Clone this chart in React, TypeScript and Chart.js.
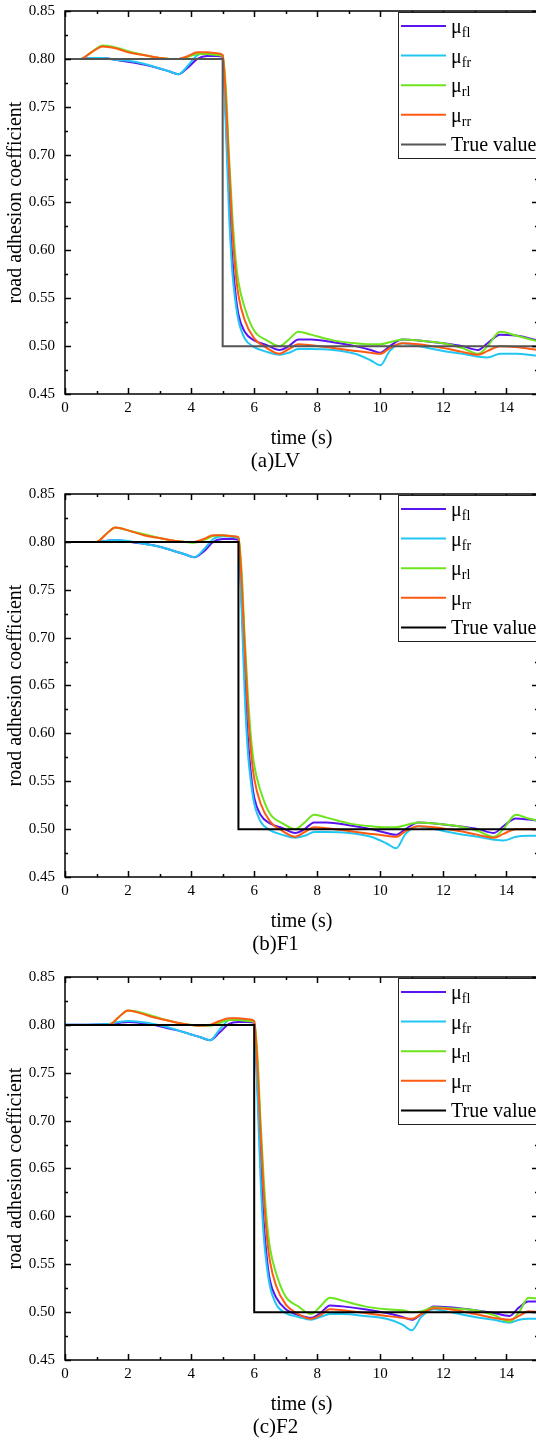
import React, { useEffect, useRef } from 'react';
import { Chart, registerables } from 'chart.js';

Chart.register(...registerables);

const SERIF = '"Liberation Serif", "Times New Roman", Times, serif';

// ---------- shared ----------
const seriesSubs = ['fl', 'fr', 'rl', 'rr'];
const seriesColors = ['#5A14F0', '#22C6F2', '#6EE41E', '#FF5A12'];
const xTickValues = [0, 1, 2, 3, 4, 5, 6, 7, 8, 9, 10, 11, 12, 13, 14, 15];
const yTickValues = [0.45, 0.475, 0.5, 0.525, 0.55, 0.575, 0.6, 0.625, 0.65, 0.675, 0.7, 0.725, 0.75, 0.775, 0.8, 0.825, 0.85];
const captions = ['(a)LV', '(b)F1', '(c)F2'];

// ---------- (a) LV ----------
const T_LV = [0, 0.5, 0.8, 1.2, 1.6, 2.0, 2.5, 3.0, 3.3, 3.6, 3.9, 4.2, 4.5, 4.8, 5.0, 5.1, 5.2, 5.3, 5.4, 5.5, 5.7, 6.0, 6.4, 6.8, 7.1, 7.4, 7.8, 8.5, 9.2, 9.7, 10.0, 10.3, 10.7, 11.2, 12.0, 12.6, 13.1, 13.4, 13.8, 14.3, 15.0];
const FL_LV = [0.800, 0.800, 0.801, 0.801, 0.799, 0.797, 0.794, 0.790, 0.787, 0.784, 0.791, 0.800, 0.803, 0.803, 0.802, 0.74, 0.66, 0.595, 0.557, 0.533, 0.515, 0.506, 0.501, 0.496, 0.500, 0.507, 0.507, 0.504, 0.500, 0.496, 0.493, 0.500, 0.507, 0.506, 0.503, 0.500, 0.496, 0.503, 0.512, 0.511, 0.506];
const FR_LV = [0.800, 0.800, 0.801, 0.801, 0.799, 0.798, 0.795, 0.790, 0.787, 0.784, 0.793, 0.804, 0.806, 0.805, 0.804, 0.73, 0.64, 0.58, 0.548, 0.527, 0.508, 0.499, 0.494, 0.491, 0.493, 0.497, 0.497, 0.496, 0.492, 0.485, 0.480, 0.495, 0.503, 0.500, 0.495, 0.492, 0.489, 0.488, 0.492, 0.492, 0.490];
const RL_LV = [0.800, 0.800, 0.806, 0.814, 0.812, 0.808, 0.804, 0.801, 0.800, 0.800, 0.802, 0.805, 0.805, 0.804, 0.803, 0.77, 0.70, 0.64, 0.595, 0.567, 0.54, 0.516, 0.506, 0.500, 0.507, 0.515, 0.512, 0.506, 0.503, 0.502, 0.502, 0.504, 0.507, 0.506, 0.503, 0.498, 0.492, 0.500, 0.515, 0.511, 0.505];
const RR_LV = [0.800, 0.800, 0.806, 0.813, 0.811, 0.807, 0.804, 0.801, 0.800, 0.800, 0.803, 0.807, 0.807, 0.806, 0.804, 0.76, 0.69, 0.625, 0.58, 0.553, 0.527, 0.508, 0.498, 0.492, 0.497, 0.502, 0.501, 0.498, 0.495, 0.493, 0.492, 0.498, 0.503, 0.502, 0.498, 0.494, 0.491, 0.495, 0.500, 0.499, 0.496];
const TRUE_T_LV = [0, 5, 5, 15];
const TRUE_V_LV = [0.8, 0.8, 0.5, 0.5];

// ---------- (b) F1 ----------
const T_F1 = [0, 1.0, 1.3, 1.6, 2.0, 2.5, 3.0, 3.5, 3.8, 4.1, 4.4, 4.7, 5.0, 5.3, 5.5, 5.6, 5.7, 5.8, 5.9, 6.0, 6.2, 6.5, 6.9, 7.3, 7.6, 7.9, 8.3, 9.0, 9.7, 10.2, 10.5, 10.8, 11.2, 11.7, 12.5, 13.1, 13.6, 13.9, 14.3, 14.7, 15.0];
const FL_F1 = [0.800, 0.800, 0.801, 0.802, 0.800, 0.798, 0.795, 0.790, 0.787, 0.784, 0.790, 0.800, 0.803, 0.803, 0.802, 0.74, 0.66, 0.595, 0.557, 0.533, 0.515, 0.506, 0.501, 0.496, 0.500, 0.507, 0.507, 0.504, 0.500, 0.496, 0.494, 0.500, 0.507, 0.506, 0.503, 0.500, 0.496, 0.503, 0.511, 0.510, 0.509];
const FR_F1 = [0.800, 0.800, 0.801, 0.802, 0.801, 0.798, 0.795, 0.790, 0.787, 0.784, 0.792, 0.803, 0.806, 0.805, 0.804, 0.73, 0.64, 0.58, 0.548, 0.527, 0.508, 0.499, 0.494, 0.491, 0.493, 0.497, 0.497, 0.496, 0.492, 0.485, 0.480, 0.495, 0.503, 0.500, 0.495, 0.492, 0.489, 0.488, 0.492, 0.493, 0.493];
const RL_F1 = [0.800, 0.800, 0.808, 0.815, 0.812, 0.808, 0.804, 0.801, 0.800, 0.799, 0.802, 0.806, 0.807, 0.806, 0.804, 0.77, 0.70, 0.64, 0.595, 0.567, 0.54, 0.516, 0.506, 0.500, 0.507, 0.515, 0.512, 0.506, 0.503, 0.502, 0.502, 0.504, 0.507, 0.506, 0.503, 0.498, 0.492, 0.500, 0.515, 0.511, 0.509];
const RR_F1 = [0.800, 0.800, 0.808, 0.815, 0.812, 0.807, 0.804, 0.801, 0.800, 0.800, 0.803, 0.807, 0.807, 0.806, 0.805, 0.76, 0.69, 0.625, 0.58, 0.553, 0.527, 0.508, 0.498, 0.492, 0.497, 0.502, 0.501, 0.498, 0.495, 0.493, 0.492, 0.498, 0.503, 0.502, 0.498, 0.494, 0.491, 0.495, 0.500, 0.500, 0.500];
const TRUE_T_F1 = [0, 5.5, 5.5, 15];
const TRUE_V_F1 = [0.8, 0.8, 0.5, 0.5];

// ---------- (c) F2 ----------
const T_F2 = [0, 1.4, 1.7, 2.0, 2.4, 2.8, 3.2, 3.6, 4.0, 4.3, 4.6, 4.9, 5.2, 5.5, 5.8, 6.0, 6.1, 6.2, 6.3, 6.4, 6.5, 6.7, 7.0, 7.4, 7.8, 8.1, 8.4, 8.8, 9.5, 10.2, 10.7, 11.0, 11.3, 11.7, 12.2, 13.0, 13.6, 14.1, 14.4, 14.7, 15.0];
const FL_F2 = [0.800, 0.801, 0.802, 0.803, 0.802, 0.800, 0.797, 0.794, 0.790, 0.787, 0.784, 0.792, 0.801, 0.803, 0.803, 0.802, 0.74, 0.66, 0.595, 0.557, 0.533, 0.515, 0.503, 0.497, 0.494, 0.499, 0.507, 0.506, 0.503, 0.499, 0.495, 0.492, 0.498, 0.506, 0.505, 0.502, 0.499, 0.496, 0.505, 0.511, 0.511];
const FR_F2 = [0.800, 0.801, 0.803, 0.804, 0.803, 0.801, 0.798, 0.794, 0.790, 0.787, 0.784, 0.795, 0.805, 0.806, 0.805, 0.804, 0.73, 0.64, 0.58, 0.548, 0.527, 0.508, 0.499, 0.495, 0.492, 0.495, 0.498, 0.498, 0.496, 0.493, 0.487, 0.481, 0.495, 0.503, 0.500, 0.495, 0.492, 0.489, 0.492, 0.493, 0.493];
const RL_F2 = [0.800, 0.800, 0.808, 0.815, 0.813, 0.809, 0.805, 0.802, 0.800, 0.799, 0.799, 0.802, 0.805, 0.805, 0.804, 0.803, 0.77, 0.70, 0.64, 0.595, 0.567, 0.54, 0.516, 0.506, 0.498, 0.506, 0.515, 0.512, 0.506, 0.503, 0.502, 0.500, 0.501, 0.505, 0.504, 0.502, 0.497, 0.490, 0.500, 0.515, 0.514];
const RR_F2 = [0.800, 0.800, 0.808, 0.815, 0.812, 0.808, 0.805, 0.802, 0.800, 0.799, 0.800, 0.804, 0.807, 0.807, 0.806, 0.804, 0.76, 0.69, 0.625, 0.58, 0.553, 0.527, 0.508, 0.498, 0.493, 0.497, 0.503, 0.502, 0.499, 0.496, 0.494, 0.493, 0.498, 0.504, 0.503, 0.498, 0.494, 0.492, 0.496, 0.501, 0.500];
const TRUE_T_F2 = [0, 6, 6, 15];
const TRUE_V_F2 = [0.8, 0.8, 0.5, 0.5];

const panels = [
  { t: T_LV, series: [FL_LV, FR_LV, RL_LV, RR_LV], trueT: TRUE_T_LV, trueV: TRUE_V_LV, trueColor: '#555555', caption: captions[0] },
  { t: T_F1, series: [FL_F1, FR_F1, RL_F1, RR_F1], trueT: TRUE_T_F1, trueV: TRUE_V_F1, trueColor: '#000000', caption: captions[1] },
  { t: T_F2, series: [FL_F2, FR_F2, RL_F2, RR_F2], trueT: TRUE_T_F2, trueV: TRUE_V_F2, trueColor: '#000000', caption: captions[2] },
];

const frameTicksPlugin = {
  id: 'frameTicks',
  afterDatasetsDraw(chart: any) {
    const { ctx, chartArea: a, scales } = chart;
    const xs = scales.x;
    const ys = scales.y;
    ctx.save();
    ctx.strokeStyle = '#000';
    ctx.lineWidth = 1.5;
    ctx.strokeRect(a.left, a.top, a.right - a.left, a.bottom - a.top);
    ctx.beginPath();
    xTickValues.forEach((v, i) => {
      const px = Math.round(xs.getPixelForValue(v)) + 0.5;
      const len = i % 2 === 0 ? 6 : 3;
      ctx.moveTo(px, a.bottom);
      ctx.lineTo(px, a.bottom - len);
      ctx.moveTo(px, a.top);
      ctx.lineTo(px, a.top + len);
    });
    yTickValues.forEach((v, i) => {
      const py = Math.round(ys.getPixelForValue(v)) + 0.5;
      const len = i % 2 === 0 ? 6 : 3;
      ctx.moveTo(a.left, py);
      ctx.lineTo(a.left + len, py);
      ctx.moveTo(a.right, py);
      ctx.lineTo(a.right - len, py);
    });
    ctx.stroke();
    ctx.restore();
  },
};

const legendPlugin = {
  id: 'muLegend',
  afterDraw(chart: any) {
    const { ctx, chartArea: a } = chart;
    const boxL = 398;
    const boxT = a.top + 1;
    const boxW = 160;
    const boxH = 146;
    ctx.save();
    ctx.fillStyle = '#fff';
    ctx.fillRect(boxL, boxT, boxW, boxH);
    ctx.strokeStyle = '#222';
    ctx.lineWidth = 1;
    ctx.strokeRect(boxL + 0.5, boxT + 0.5, boxW, boxH);
    const ds = chart.data.datasets;
    ds.forEach((d: any, i: number) => {
      const y = boxT + 14 + i * 29.6;
      ctx.strokeStyle = d.borderColor;
      ctx.lineWidth = 2;
      ctx.beginPath();
      ctx.moveTo(401, y);
      ctx.lineTo(446, y);
      ctx.stroke();
      ctx.fillStyle = '#000';
      ctx.textAlign = 'left';
      ctx.textBaseline = 'alphabetic';
      if (d.sub) {
        ctx.font = `20px ${SERIF}`;
        ctx.fillText('μ', 451, y + 7);
        const w = ctx.measureText('μ').width;
        ctx.font = `14px ${SERIF}`;
        ctx.fillText(d.sub, 451 + w, y + 11);
      } else {
        ctx.font = `20px ${SERIF}`;
        ctx.fillText(d.label, 451, y + 7);
      }
    });
    ctx.restore();
  },
};

function Panel({ p }: { p: typeof panels[number] }) {
  const ref = useRef<HTMLCanvasElement | null>(null);
  useEffect(() => {
    if (!ref.current) return;
    const datasets: any[] = p.series.map((vals, si) => ({
      label: 'μ' + seriesSubs[si],
      sub: seriesSubs[si],
      data: p.t.map((t, i) => ({ x: t, y: vals[i] })),
      borderColor: seriesColors[si],
      backgroundColor: seriesColors[si],
      borderWidth: 2,
      pointRadius: 0,
      cubicInterpolationMode: 'monotone',
      order: 5 - si,
    }));
    datasets.push({
      label: 'True value',
      data: p.trueT.map((t, i) => ({ x: t, y: p.trueV[i] })),
      borderColor: p.trueColor,
      backgroundColor: p.trueColor,
      borderWidth: 2,
      pointRadius: 0,
      tension: 0,
      order: 0,
    });
    const tickFont = { family: SERIF, size: 15 };
    const chart = new Chart(ref.current, {
      type: 'line',
      data: { datasets },
      plugins: [frameTicksPlugin, legendPlugin],
      options: {
        responsive: false,
        animation: false,
        devicePixelRatio: 1,
        layout: { padding: { top: 11, right: 22, left: 13, bottom: 0 } },
        plugins: {
          legend: { display: false },
          tooltip: { enabled: false },
          title: {
            display: true,
            text: p.caption,
            position: 'bottom',
            color: '#000',
            font: { family: SERIF, size: 21, weight: 'normal', lineHeight: 1 },
            padding: { top: 0, bottom: 11 },
          },
        },
        scales: {
          x: {
            type: 'linear',
            min: 0,
            max: 15,
            grid: { display: false, drawTicks: false },
            border: { display: false },
            ticks: { stepSize: 2, includeBounds: false, color: '#000', font: tickFont, padding: 5, maxRotation: 0, autoSkip: false },
            title: { display: true, text: 'time (s)', color: '#000', font: { family: SERIF, size: 20 }, padding: { top: 10, bottom: 0 } },
            afterFit: (s: any) => { s.height = 57; s.paddingLeft = 0; s.paddingRight = 0; },
          },
          y: {
            type: 'linear',
            min: 0.45,
            max: 0.85,
            grid: { display: false, drawTicks: false },
            border: { display: false },
            ticks: { stepSize: 0.05, color: '#000', font: tickFont, padding: 10, callback: (v: any) => Number(v).toFixed(2) },
            title: { display: true, text: 'road adhesion coefficient', color: '#000', font: { family: SERIF, size: 20, lineHeight: 0.3 }, padding: { top: 0, bottom: 0 } },
            afterFit: (s: any) => { s.width = 52; s.paddingTop = 0; s.paddingBottom = 0; },
          },
        },
      } as any,
    });
    return () => chart.destroy();
  }, [p]);
  return <canvas ref={ref} width={560} height={483} style={{ display: 'block' }} />;
}

export default function App() {
  return (
    <div style={{ position: 'absolute', left: 0, top: 0, width: 536, height: 1443, overflow: 'hidden', background: '#fff' }}>
      {panels.map((p, i) => (
        <div key={i} style={{ position: 'absolute', left: 0, top: i * 483, width: 560, height: 483 }}>
          <Panel p={p} />
        </div>
      ))}
    </div>
  );
}
